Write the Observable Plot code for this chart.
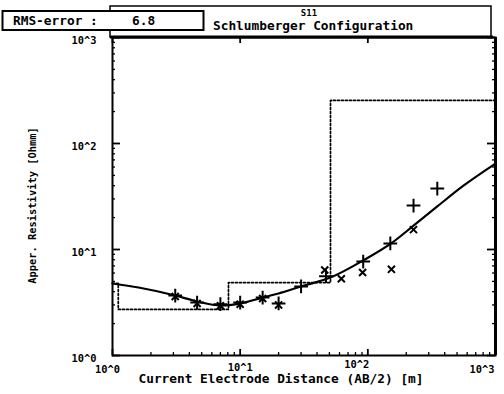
<!DOCTYPE html>
<html><head><meta charset="utf-8">
<script src="https://cdn.jsdelivr.net/npm/d3@7"></script>
<script src="https://cdn.jsdelivr.net/npm/@observablehq/plot@0.6"></script>
<style>body{margin:0;background:#fff} #chart{width:504px;height:394px}</style>
</head><body><div id="chart"></div>
<script>
// ---- data ----
const plusX  = [3.1, 4.6, 7.0, 10, 15, 20, 30, 47, 92, 150, 228, 350];
const plusY  = [3.68, 3.16, 3.05, 3.16, 3.52, 3.1, 4.48, 5.6, 7.7, 11.4, 26, 37.6];
const crossX = [3.1, 4.6, 7.0, 10, 15, 20, 46, 62, 91, 153, 228];
const crossY = [3.6, 3.1, 2.95, 3.05, 3.45, 3.0, 6.4, 5.3, 6.07, 6.5, 15.4];
const fitX   = [1, 1.6, 3.1, 4.6, 7.0, 10, 15, 20, 30, 51, 92, 155, 228, 350, 561, 1000];
const fitY   = [4.78, 4.38, 3.68, 3.23, 2.96, 3.09, 3.52, 3.85, 4.48, 5.44, 7.88, 11.6, 16.8, 25.5, 40, 64.7];
const modelX = [1, 1.11, 8.1, 51, 1000];
const modelY = [4.8, 2.72, 4.88, 255, 255];
const tickValues = [1, 10, 100, 1000];
const xTickLabels = ["10^0", "10^1", "10^2", "10^3"];
const yTickLabels = ["10^0", "10^1", "10^2", "10^3"];
const minorFactors = [2, 3, 4, 5, 6, 7, 8, 9];
const xTitle = "Current Electrode Distance (AB/2) [m]";
const yTitle = "Apper. Resistivity [Ohmm]";
const rmsLabel = "RMS-error :";
const rmsValue = "6.8";
const siteName = "S11";
const configName = "Schlumberger Configuration";

// ---- layout ----
const W = 504, H = 394, mL = 112, mR = 9, mT = 37, mB = 39;
const pw = W - mL - mR, ph = H - mT - mB;
const minor = [];
for (const d of [1, 10, 100]) for (const k of minorFactors) minor.push(d * k);
const font = "'DejaVu Sans Mono', monospace";

const plus = plusX.map((x, i) => ({x, y: plusY[i]}));
const cross = crossX.map((x, i) => ({x, y: crossY[i]}));
const fit = fitX.map((x, i) => ({x, y: fitY[i]}));
const model = modelX.map((x, i) => ({x, y: modelY[i]}));
const xLab = tickValues.map((v, i) => ({v, t: xTickLabels[i]}));

const plot = Plot.plot({
  width: W, height: H,
  marginLeft: mL, marginRight: mR, marginTop: mT, marginBottom: mB,
  x: {type: "log", domain: [1, 1000], axis: null},
  y: {type: "log", domain: [1, 1000], axis: null},
  style: {fontFamily: font, fontWeight: "bold", background: "#fff", color: "#000"},
  marks: [
    Plot.tickY(minor, {y: d => d, insetRight: pw - 3, strokeWidth: 1.3}),
    Plot.tickY(tickValues, {y: d => d, insetRight: pw - 8, strokeWidth: 1.8}),
    Plot.tickY(minor, {y: d => d, insetLeft: pw - 3, strokeWidth: 1.3}),
    Plot.tickY(tickValues, {y: d => d, insetLeft: pw - 8, strokeWidth: 1.8}),
    Plot.tickX(minor, {x: d => d, insetTop: ph - 3, strokeWidth: 1.3}),
    Plot.tickX(tickValues, {x: d => d, insetTop: ph - 6, strokeWidth: 1.8}),
    Plot.tickX(tickValues, {x: d => d, insetBottom: ph - 6, strokeWidth: 1.8}),
    Plot.line(model, {x: "x", y: "y", curve: "step-after", stroke: "#000", strokeWidth: 1.7, strokeDasharray: "2,2"}),
    Plot.line(fit, {x: "x", y: "y", curve: "monotone-x", stroke: "#000", strokeWidth: 2.2}),
    Plot.dot(plus, {x: "x", y: "y", symbol: "plus", r: 4.5, stroke: "#000", strokeWidth: 2}),
    Plot.dot(cross, {x: "x", y: "y", symbol: "times", r: 3.3, stroke: "#000", strokeWidth: 2}),
    Plot.frame({stroke: "#000", strokeWidth: 2}),
    Plot.ruleX([1000], {stroke: "#000", strokeWidth: 3}),
    Plot.text(tickValues, {y: d => d, text: (d, i) => yTickLabels[i], frameAnchor: "left", dx: -16, dy: 3, textAnchor: "end", fontSize: 10.4, fill: "#000"}),
    Plot.text(xLab.filter(d => d.v === 1), {x: "v", text: "t", frameAnchor: "bottom", dx: -5, dy: 17, fontSize: 10.4, fill: "#000"}),
    Plot.text(xLab.filter(d => d.v === 10), {x: "v", text: "t", frameAnchor: "bottom", dy: 15, fontSize: 10.4, fill: "#000"}),
    Plot.text(xLab.filter(d => d.v === 100), {x: "v", text: "t", frameAnchor: "bottom", dx: -11, dy: 12, fontSize: 10.4, fill: "#000"}),
    Plot.text(xLab.filter(d => d.v === 1000), {x: "v", text: "t", frameAnchor: "bottom", dx: -1, dy: 17, textAnchor: "end", fontSize: 10.4, fill: "#000"}),
    Plot.text([xTitle], {text: d => d, frameAnchor: "bottom", textAnchor: "middle", dx: -23, dy: 27, fontSize: 12.8, fill: "#000"}),
    Plot.text([yTitle], {text: d => d, frameAnchor: "left", textAnchor: "middle", rotate: -90, dx: -80, dy: 9, fontSize: 10.4, fill: "#000"})
  ]
});
document.getElementById("chart").appendChild(plot);

// ---- header boxes ----
const svg = d3.select(plot);
const g = svg.append("g").attr("font-family", font).attr("font-weight", "bold")
  .attr("fill", "#000").attr("text-anchor", "start");
g.append("rect").attr("x", 110).attr("y", 6).attr("width", 381).attr("height", 31)
  .attr("fill", "#fff").attr("stroke", "#000").attr("stroke-width", 1.5);
g.append("line").attr("x1", 110).attr("x2", 493).attr("y1", 37).attr("y2", 37)
  .attr("stroke", "#000").attr("stroke-width", 3);
g.append("rect").attr("x", 2.5).attr("y", 11).attr("width", 201).attr("height", 19)
  .attr("fill", "#fff").attr("stroke", "#000").attr("stroke-width", 2);
g.append("text").attr("x", 13).attr("y", 25).attr("font-size", 12.8).text(rmsLabel);
g.append("text").attr("x", 132).attr("y", 25).attr("font-size", 12.8).text(rmsValue);
g.append("text").attr("x", 309).attr("y", 16).attr("font-size", 9).attr("text-anchor", "middle").text(siteName);
g.append("text").attr("x", 213).attr("y", 30).attr("font-size", 12.8).text(configName);
</script>
</body></html>
